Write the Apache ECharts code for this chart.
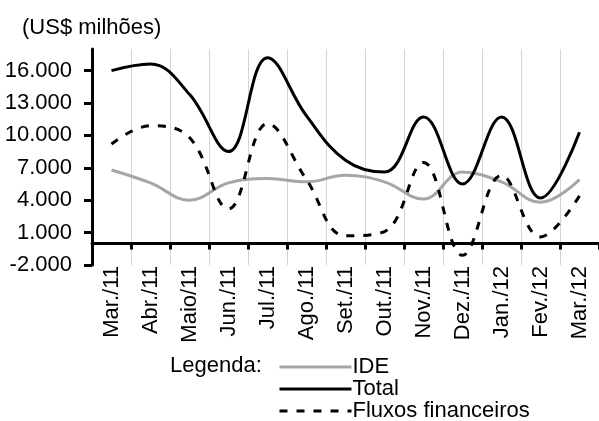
<!DOCTYPE html>
<html>
<head>
<meta charset="utf-8">
<script src="https://cdn.jsdelivr.net/npm/echarts@6/dist/echarts.min.js"></script>
<style>
html,body{margin:0;padding:0;background:#fff;}
#chart{width:599px;height:421px;}
</style>
</head>
<body>
<div id="chart"></div>
<script>
const categories = ['Mar./11','Abr./11','Maio/11','Jun./11','Jul./11','Ago./11','Set./11','Out./11','Nov./11','Dez./11','Jan./12','Fev./12','Mar./12'];
const ide   = [6800, 5600, 4000, 5600, 6000, 5700, 6300, 5700, 4100, 6600, 5700, 3800, 5900];
const total = [16000, 16600, 13800, 8500, 17200, 11800, 7700, 6600, 11700, 5500, 11700, 4200, 10300];
const fluxos = [9200, 10900, 9800, 3200, 11100, 5900, 700, 1100, 7500, -1100, 6300, 600, 4400];
const yTicks = [-2000, 1000, 4000, 7000, 10000, 13000, 16000];

const FONT = "'Liberation Sans', Arial, sans-serif";
const FS = 22;
function fmt(v){
  const s = Math.abs(v).toString().replace(/\B(?=(\d{3})+(?!\d))/g, '.');
  return (v < 0 ? '-' : '') + s;
}

const chart = echarts.init(document.getElementById('chart'), null, {renderer:'canvas'});
chart.setOption({
  animation: false,
  backgroundColor: '#fff',
  textStyle: {fontFamily: FONT},
  grid: {left: 92, right: -8, top: 49, bottom: 156, containLabel: false},
  graphic: [
    {type:'text', x: 22, y: 28, style:{text:'(US$ milhões)', font: FS + 'px ' + FONT, fill:'#000', verticalAlign:'middle'}},
    {type:'text', x: 170, y: 366, style:{text:'Legenda:', font: FS + 'px ' + FONT, fill:'#000', verticalAlign:'middle'}}
  ],
  legend: {
    orient: 'vertical',
    left: 278,
    top: 356,
    height: 80,
    itemWidth: 72,
    itemHeight: 14,
    itemGap: 0,
    padding: 0,
    itemStyle: {opacity: 0},
    lineStyle: {width: 3},
    data: ['IDE', 'Total', 'Fluxos financeiros'],
    textStyle: {fontSize: FS, fontFamily: FONT, color: '#000', lineHeight: 21, padding: [0,0,0,-4]}
  },
  xAxis: {
    type: 'category',
    data: categories,
    boundaryGap: true,
    axisLine: {onZero: true, lineStyle: {color: '#000', width: 3}},
    axisTick: {show: true, interval: 0, length: 6, lineStyle: {color: '#000', width: 3}},
    axisLabel: {interval: 0, rotate: 90, margin: 1, fontSize: FS, color: '#000', fontFamily: FONT},
    splitLine: {show: true, interval: 0, lineStyle: {color: '#d4d4d4', width: 1}}
  },
  yAxis: {
    type: 'value',
    min: -2000,
    max: 18000,
    interval: 3000,
    axisLine: {show: true, lineStyle: {color: '#000', width: 3}},
    axisTick: {show: true, length: 8, customValues: yTicks, lineStyle: {color: '#000', width: 3}},
    axisLabel: {customValues: yTicks, margin: 20, fontSize: FS, color: '#000', fontFamily: FONT, formatter: fmt},
    splitLine: {show: false}
  },
  series: [
    {name: 'IDE', type: 'line', data: ide, smooth: 0.4, symbol: 'none',
     lineStyle: {color: '#a6a6a6', width: 3}, itemStyle: {color: '#a6a6a6'}},
    {name: 'Total', type: 'line', data: total, smooth: 0.4, symbol: 'none',
     lineStyle: {color: '#000', width: 3}, itemStyle: {color: '#000'}},
    {name: 'Fluxos financeiros', type: 'line', data: fluxos, smooth: 0.4, symbol: 'none',
     lineStyle: {color: '#000', width: 3, type: [8, 9]}, itemStyle: {color: '#000'}}
  ]
});
</script>
</body>
</html>
